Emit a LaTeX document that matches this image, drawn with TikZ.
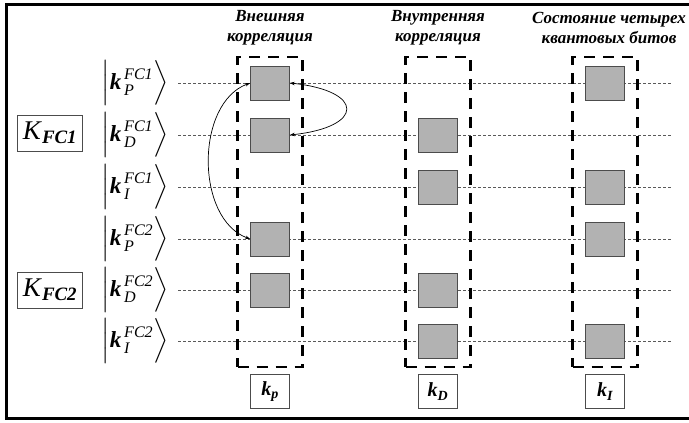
\documentclass[tikz,border=0pt]{standalone}
\usepackage{amsmath}
\usepackage{fontspec}
\setmainfont{Liberation Serif}
\usetikzlibrary{positioning,arrows.meta}

\newcommand{\ketlbl}[2]{$\Bigl|\text{\bfseries\itshape k}^{\,\text{\itshape #2}}_{\,\text{\itshape #1}}\Bigr\rangle$}

\begin{document}
\begin{tikzpicture}[x=1pt,y=-1pt,
  ket/.style={font=\fontsize{23}{25}\selectfont, inner sep=0pt},
  kfc/.style={draw=black!70, line width=0.6pt, minimum width=65pt, minimum height=36pt, inner sep=1pt, font=\fontsize{27}{28}\selectfont},
  colbox/.style={draw, line width=2.6pt, dash pattern=on 11pt off 8pt, minimum width=65pt, minimum height=310pt},
  qbit/.style={draw=black!70, fill=black!30, line width=0.6pt, minimum width=39pt, minimum height=34pt},
  rowline/.style={draw=black!65, dash pattern=on 3pt off 2pt, line width=0.6pt},
  head/.style={font=\fontsize{17}{20}\selectfont\bfseries\itshape, align=center},
  lbl/.style={draw=black!70, line width=0.6pt, minimum width=39pt, minimum height=34pt, inner sep=1pt, font=\fontsize{20}{22}\selectfont},
  arr/.style={{Stealth[length=5pt,width=3.5pt]}-{Stealth[length=5pt,width=3.5pt]}, line width=0.7pt}]
  \useasboundingbox (0,0) rectangle (689,423);
  \draw[line width=3pt] (692,4) -- (6,4) -- (6,418) -- (692,418);

  % row labels
  \node[ket] (ketP1) at (135,83) {\ketlbl{P}{FC1}};
  \node[ket] (ketD1) at (135,135) {\ketlbl{D}{FC1}};
  \node[ket] (ketI1) at (135,187) {\ketlbl{I}{FC1}};
  \node[ket] (ketP2) at (135,239) {\ketlbl{P}{FC2}};
  \node[ket] (ketD2) at (135,290) {\ketlbl{D}{FC2}};
  \node[ket] (ketI2) at (135,341) {\ketlbl{I}{FC2}};
  \node[kfc] (kFC1) at (50,133) {\textit{K}$_{\text{\bfseries\itshape FC1}}$};
  \node[kfc] (kFC2) at (50,290) {\textit{K}$_{\text{\bfseries\itshape FC2}}$};

  % dotted rows
  \coordinate (r1s) at (178,83);  \coordinate (r1e) at (672,83);
  \coordinate (r2s) at (178,135); \coordinate (r2e) at (672,135);
  \coordinate (r3s) at (178,187); \coordinate (r3e) at (672,187);
  \coordinate (r4s) at (178,239); \coordinate (r4e) at (672,239);
  \coordinate (r5s) at (178,290); \coordinate (r5e) at (672,290);
  \coordinate (r6s) at (178,341); \coordinate (r6e) at (672,341);
  \draw[rowline] (r1s) -- (r1e);
  \draw[rowline] (r2s) -- (r2e);
  \draw[rowline] (r3s) -- (r3e);
  \draw[rowline] (r4s) -- (r4e);
  \draw[rowline] (r5s) -- (r5e);
  \draw[rowline] (r6s) -- (r6e);

  % columns
  \node[colbox] (colP) at (270,212) {};
  \node[colbox] (colD) at (438,212) {};
  \node[colbox] (colI) at (605,212) {};
  \node[head] (headP) at (270,28) {Внешняя\\корреляция};
  \node[head] (headD) at (438,28) {Внутренняя\\корреляция};
  \node[head] (headI) at (609,28) {Состояние четырех\\квантовых битов};
  \node[lbl, below=6pt of colP] (labP) {\textbf{\textit{k}}$_{\text{\bfseries\itshape p}}$};
  \node[lbl, below=6pt of colD] (labD) {\textbf{\textit{k}}$_{\text{\bfseries\itshape D}}$};
  \node[lbl, below=6pt of colI] (labI) {\textbf{\textit{k}}$_{\text{\bfseries\itshape I}}$};

  % qubits
  \node[qbit] (sqP1) at (270,83) {};
  \node[qbit] (sqP2) at (270,135) {};
  \node[qbit] (sqP4) at (270,239) {};
  \node[qbit] (sqP5) at (270,290) {};
  \node[qbit] (sqD2) at (438,135) {};
  \node[qbit] (sqD3) at (438,187) {};
  \node[qbit] (sqD5) at (438,290) {};
  \node[qbit] (sqD6) at (438,341) {};
  \node[qbit] (sqI1) at (605,83) {};
  \node[qbit] (sqI3) at (605,187) {};
  \node[qbit] (sqI4) at (605,239) {};
  \node[qbit] (sqI6) at (605,341) {};

  \draw[arr] (sqP1.east) .. controls +(75,8) and +(75,-8) .. (sqP2.east);
  \draw[arr] (sqP1.west) .. controls +(-55,20) and +(-55,-20) .. (sqP4.west);
\end{tikzpicture}
\end{document}
